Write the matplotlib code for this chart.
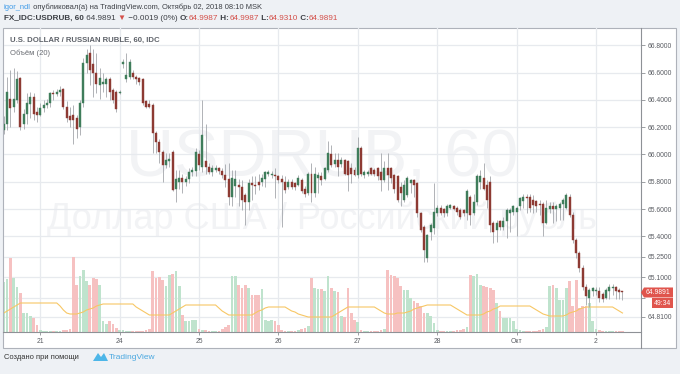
import matplotlib
matplotlib.use('Agg')
import matplotlib.pyplot as plt
import matplotlib.transforms as mtransforms
from matplotlib.patches import Rectangle, Polygon
from matplotlib.lines import Line2D
import numpy as np

# ---------------- data (hourly bars, 20 Sep 13:00 .. 02 Oct 08:00) ----------------
opens = [66.18, 66.22, 66.41, 66.35, 66.40, 66.56, 66.22, 66.30, 66.37, 66.42,
         66.31, 66.29, 66.34, 66.36, 66.38, 66.45, 66.44, 66.46, 66.48, 66.35,
         66.28, 66.29, 66.27, 66.20, 66.38, 66.67, 66.74, 66.66, 66.60, 66.51,
         66.52, 66.52, 66.55, 66.47, 66.46, 66.45, 66.66, 66.55, 66.57, 66.60,
         66.57, 66.56, 66.55, 66.39, 66.37, 66.36, 66.16, 66.09, 66.02, 65.92,
         65.95, 66.02, 65.75, 65.80, 65.83, 65.80, 65.82, 65.87, 65.88, 66.00,
         65.91, 65.95, 65.91, 65.87, 65.89, 65.90, 65.88, 65.85, 65.82, 65.69,
         65.77, 65.78, 65.76, 65.70, 65.65, 65.79, 65.78, 65.80, 65.80, 65.82,
         65.86, 65.85, 65.85, 65.84, 65.82, 65.80, 65.76, 65.80, 65.79, 65.78,
         65.81, 65.75, 65.72, 65.86, 65.72, 65.83, 65.84, 65.82, 65.89, 66.00,
         65.93, 65.96, 65.93, 65.96, 65.95, 65.90, 65.89, 65.85, 66.05, 65.85,
         65.86, 65.90, 65.89, 65.90, 65.87, 65.81, 65.90, 65.90, 65.85, 65.84,
         65.76, 65.67, 65.70, 65.79, 65.81, 65.79, 65.57, 65.47, 65.24, 65.43,
         65.46, 65.57, 65.61, 65.60, 65.57, 65.61, 65.62, 65.61, 65.59, 65.59,
         65.57, 65.69, 65.57, 65.65, 65.80, 65.83, 65.78, 65.80, 65.50, 65.45,
         65.51, 65.47, 65.51, 65.57, 65.58, 65.58, 65.62, 65.66, 65.69, 65.69,
         65.67, 65.66, 65.64, 65.64, 65.50, 65.60, 65.62, 65.60, 65.61, 65.64,
         65.61, 65.69, 65.56, 65.37, 65.28, 65.17, 65.03, 64.95, 65.00, 65.00,
         65.00, 64.98, 64.95, 65.00, 65.02, 65.03, 65.01, 64.9987]
highs = [66.28, 66.57, 66.62, 66.63, 66.61, 66.57, 66.33, 66.45, 66.46, 66.45,
         66.35, 66.38, 66.40, 66.41, 66.46, 66.47, 66.48, 66.50, 66.49, 66.39,
         66.35, 66.36, 66.29, 66.40, 66.71, 66.77, 66.80, 66.77, 66.74, 66.63,
         66.60, 66.57, 66.57, 66.49, 66.47, 66.47, 66.70, 66.74, 66.70, 66.62,
         66.58, 66.57, 66.56, 66.40, 66.40, 66.38, 66.17, 66.11, 66.03, 66.01,
         66.01, 66.03, 65.89, 65.89, 65.86, 65.84, 65.90, 65.91, 66.05, 66.03,
         66.40, 66.22, 65.94, 65.92, 65.92, 65.91, 65.90, 65.93, 65.94, 65.89,
         65.89, 65.82, 65.81, 65.72, 65.82, 65.84, 65.84, 65.86, 65.86, 65.88,
         65.89, 65.88, 65.90, 65.85, 65.85, 65.84, 65.82, 65.82, 65.80, 65.85,
         65.83, 65.77, 65.87, 65.94, 65.91, 65.87, 65.87, 65.91, 66.10, 66.07,
         66.01, 66.01, 65.98, 65.97, 65.96, 65.94, 65.91, 66.13, 66.06, 65.89,
         65.89, 65.91, 65.90, 65.91, 66.01, 65.95, 66.01, 65.91, 65.86, 65.85,
         65.80, 65.81, 65.84, 65.82, 65.82, 65.80, 65.58, 65.48, 65.42, 65.50,
         65.79, 65.63, 65.63, 65.61, 65.64, 65.64, 65.63, 65.62, 65.61, 65.60,
         65.75, 65.70, 65.71, 65.86, 65.89, 65.94, 65.81, 65.84, 65.51, 65.52,
         65.52, 65.54, 65.61, 65.61, 65.63, 65.62, 65.69, 65.71, 65.71, 65.71,
         65.70, 65.67, 65.67, 65.65, 65.67, 65.65, 65.65, 65.64, 65.65, 65.68,
         65.72, 65.71, 65.58, 65.39, 65.29, 65.19, 65.05, 65.02, 65.03, 65.03,
         65.03, 64.99, 65.02, 65.05, 65.05, 65.04, 65.02, 64.9987]
lows = [66.15, 66.18, 66.20, 66.31, 66.38, 66.18, 66.19, 66.22, 66.27, 66.25,
        66.24, 66.28, 66.31, 66.34, 66.35, 66.40, 66.43, 66.43, 66.33, 66.24,
        66.20, 66.08, 66.12, 66.14, 66.35, 66.60, 66.51, 66.42, 66.45, 66.41,
        66.46, 66.42, 66.40, 66.38, 66.31, 66.44, 66.63, 66.53, 66.55, 66.55,
        66.52, 66.51, 66.36, 66.34, 66.34, 66.01, 66.01, 65.94, 65.80, 65.90,
        65.91, 65.73, 65.65, 65.75, 65.72, 65.77, 65.79, 65.84, 65.84, 65.89,
        65.87, 65.86, 65.86, 65.84, 65.87, 65.86, 65.83, 65.76, 65.63, 65.62,
        65.69, 65.62, 65.59, 65.48, 65.59, 65.67, 65.71, 65.74, 65.77, 65.76,
        65.84, 65.83, 65.68, 65.79, 65.47, 65.72, 65.75, 65.75, 65.74, 65.77,
        65.72, 65.69, 65.70, 65.65, 65.69, 65.72, 65.78, 65.81, 65.87, 65.91,
        65.91, 65.84, 65.91, 65.85, 65.73, 65.79, 65.84, 65.83, 65.84, 65.83,
        65.84, 65.85, 65.84, 65.81, 65.73, 65.80, 65.74, 65.79, 65.72, 65.65,
        65.62, 65.65, 65.69, 65.72, 65.69, 65.54, 65.43, 65.21, 65.21, 65.37,
        65.42, 65.55, 65.56, 65.54, 65.55, 65.60, 65.59, 65.56, 65.53, 65.55,
        65.52, 65.48, 65.56, 65.63, 65.75, 65.74, 65.61, 65.43, 65.35, 65.36,
        65.45, 65.45, 65.39, 65.43, 65.56, 65.40, 65.59, 65.61, 65.57, 65.58,
        65.57, 65.58, 65.56, 65.40, 65.49, 65.57, 65.50, 65.51, 65.52, 65.52,
        65.60, 65.54, 65.35, 65.24, 65.14, 65.01, 64.90, 64.88, 64.96, 64.97,
        64.92, 64.92, 64.94, 64.94, 64.97, 64.94, 64.94, 64.9310]
closes = [66.22, 66.46, 66.34, 66.41, 66.55, 66.20, 66.30, 66.38, 66.42, 66.30,
          66.29, 66.34, 66.36, 66.38, 66.45, 66.44, 66.46, 66.47, 66.35, 66.27,
          66.25, 66.25, 66.19, 66.38, 66.67, 66.73, 66.62, 66.60, 66.52, 66.56,
          66.53, 66.55, 66.46, 66.40, 66.33, 66.46, 66.68, 66.58, 66.68, 66.57,
          66.55, 66.53, 66.38, 66.35, 66.35, 66.16, 66.09, 66.02, 65.92, 65.96,
          65.97, 65.74, 65.82, 65.83, 65.80, 65.82, 65.87, 65.89, 66.02, 65.92,
          66.14, 65.91, 65.87, 65.90, 65.90, 65.88, 65.85, 65.81, 65.69, 65.83,
          65.82, 65.76, 65.67, 65.65, 65.79, 65.78, 65.77, 65.78, 65.83, 65.87,
          65.87, 65.86, 65.84, 65.81, 65.80, 65.74, 65.80, 65.76, 65.76, 65.83,
          65.73, 65.71, 65.86, 65.72, 65.86, 65.85, 65.81, 65.90, 66.01, 65.92,
          65.96, 65.91, 65.96, 65.86, 65.85, 65.86, 65.85, 66.05, 65.86, 65.87,
          65.87, 65.86, 65.86, 65.84, 65.81, 65.90, 65.85, 65.83, 65.75, 65.67,
          65.72, 65.78, 65.83, 65.81, 65.78, 65.57, 65.45, 65.30, 65.41, 65.48,
          65.58, 65.61, 65.57, 65.57, 65.62, 65.63, 65.60, 65.58, 65.54, 65.57,
          65.73, 65.56, 65.65, 65.84, 65.84, 65.75, 65.67, 65.48, 65.43, 65.50,
          65.47, 65.51, 65.59, 65.59, 65.62, 65.61, 65.68, 65.69, 65.68, 65.61,
          65.63, 65.62, 65.63, 65.50, 65.61, 65.62, 65.60, 65.62, 65.64, 65.67,
          65.70, 65.56, 65.37, 65.28, 65.17, 65.03, 64.96, 65.01, 65.02, 65.01,
          64.95, 64.94, 65.01, 65.03, 65.03, 65.00, 64.99, 64.9891]
volumes = [50, 53, 74, 54, 45, 39, 19, 19, 16, 14, 7, 2,
           1, 1, 1, 1, 1, 1, 2, 2, 3,
           75, 47, 56, 62, 51, 47, 54, 53, 47, 11, 8, 11, 8, 4, 2,
           2, 1, 1, 1, 1, 1, 1, 2, 3,
           61, 54, 55, 52, 46, 57, 58, 61, 46, 17, 11, 11, 12, 12,
           3, 2, 2, 1, 1, 1, 1, 3, 5, 7,
           56, 56, 47, 44, 47, 44, 37, 37, 37, 43, 12, 11, 12, 11, 7,
           2, 1, 1, 1, 1, 2, 3, 4, 6,
           54, 44, 43, 43, 41, 56, 44, 41, 40, 16, 15, 44, 19, 12, 10,
           2, 1, 1, 1, 1, 1, 2, 3,
           62, 57, 56, 54, 46, 42, 42, 34, 31, 29, 26, 19, 19, 16, 9,
           2, 1, 1, 1, 1, 1, 2, 2, 3, 5,
           57, 56, 58, 47, 46, 45, 44, 42, 29, 21, 14, 14, 14, 11,
           3, 2, 1, 1, 1, 1, 1, 2, 3, 5,
           46, 47, 44, 32, 32, 44, 51, 26, 52, 24, 26, 26, 29, 11,
           3, 2, 1, 1, 1, 1, 1, 1, 1]
volume_ma20 = [19, 21, 23, 25, 27, 29, 29, 29, 29, 29, 29, 29, 29, 29, 29, 29, 29,
               26, 22, 19, 18, 18, 18, 19, 20, 22, 23, 24, 26, 27,
               28, 28, 28, 28, 28, 28, 28, 28, 28, 28, 25, 23, 21, 19, 17,
               17, 17, 17, 17, 17, 17, 19, 21, 23, 25, 27,
               27, 27, 27, 27, 27, 27, 27, 27, 27, 24, 21, 19, 17,
               17, 17, 17, 17, 17, 17, 17, 19, 21, 22, 24, 25,
               25, 25, 25, 25, 25, 23, 21, 20, 18, 17, 16, 15,
               15, 15, 15, 15, 15, 15, 15, 17, 19, 21, 23, 25,
               25, 25, 25, 25, 25, 25, 25, 25, 23, 21, 19, 18,
               18, 18, 19, 19, 19, 20, 21, 23, 24, 25, 26, 27,
               27, 27, 27, 27, 27, 27, 27, 25, 23, 21, 19, 17,
               17, 17, 17, 17, 18, 20, 21, 23, 24, 26,
               26, 26, 26, 26, 26, 26, 26, 26, 26, 24, 22, 20, 18, 17, 16,
               16, 16, 16, 16, 17, 19, 20, 21, 23, 24, 25,
               25, 25, 25, 25, 25, 25, 25, 25, 23, 21, 19]
date_ticks = [11, 35, 59, 83, 107, 131, 155, 179]
date_labels = ['21', '24', '25', '26', '27', '28', 'Окт', '2']
price_ticks = [66.8, 66.6, 66.4, 66.2, 66.0, 65.8, 65.6, 65.4, 65.25, 65.1, 64.95, 64.81]
price_labels = ['66.8000', '66.6000', '66.4000', '66.2000', '66.0000', '65.8000',
                '65.6000', '65.4000', '65.2500', '65.1000', '', '64.8100']
last_price = 64.9891

# ---------------- figure ----------------
W, H = 680, 374
fig = plt.figure(figsize=(W / 100, H / 100), dpi=100)
BG = '#eef1f5'
fig.patch.set_facecolor(BG)
plt.rcParams['font.family'] = ['DejaVu Sans']
FONT = ['Liberation Sans', 'DejaVu Sans']

def fx(x):
    return x / W

def fy(y):
    return 1 - y / H

# chart panel
fig.add_artist(Rectangle((fx(3), fy(348)), (676 - 3) / W, (348 - 28) / H,
                         transform=fig.transFigure, facecolor='white',
                         edgecolor='#aeb2ba', lw=0.8, zorder=-5))

# watermark
fig.text(fx(322), fy(160), 'USDRUB, 60', fontsize=48, color='#f2f3f5',
         ha='center', va='center', family=FONT, zorder=-4)
fig.text(fx(322), fy(219), 'Доллар США / Российский рубль', fontsize=26,
         color='#f2f3f5', ha='center', va='center', family=FONT, zorder=-4)

rect = [fx(3.5), fy(332), (641 - 3.5) / W, (332 - 28) / H]
ax_vol = fig.add_axes(rect, zorder=1)
ax = fig.add_axes(rect, sharex=ax_vol, zorder=2)
for a in (ax, ax_vol):
    a.patch.set_visible(False)
    for s in a.spines.values():
        s.set_visible(False)

n = len(closes)
xs = np.arange(n)
O = np.array(opens); Hh = np.array(highs); L = np.array(lows); C = np.array(closes)
up = C >= O

ax_vol.set_xlim(-0.1, 192.6)
ax.set_ylim(64.6996, 66.9267)
ax_vol.set_ylim(0, 304)

# grid (behind volume)
GRID = '#e7eaee'
blend = mtransforms.blended_transform_factory(ax_vol.transAxes, ax.transData)
for p in price_ticks:
    ax_vol.add_line(Line2D([0, 1], [p, p], transform=blend, color=GRID, lw=0.9, zorder=0))
for d in date_ticks:
    ax_vol.axvline(d, color=GRID, lw=0.9, zorder=0)

# volume
VUP, VDN = '#bfe3cd', '#f6c1c1'
vcol = [VUP if u else VDN for u in up]
ax_vol.bar(xs, volumes, width=0.82, color=vcol, zorder=1, linewidth=0)
ax_vol.plot(xs, volume_ma20, color='#f7c765', lw=0.8, zorder=2)

# candles
UPC, DNC = '#3f7d5b', '#8d3a33'
WICK = '#a3a6ab'
ax.vlines(xs, L, Hh, color=WICK, lw=0.6, zorder=3)
bh = np.maximum(np.abs(C - O), 0.004)
ax.bar(xs, bh, bottom=np.minimum(O, C), width=0.6,
       color=[UPC if u else DNC for u in up], edgecolor=[UPC if u else DNC for u in up],
       linewidth=0.3, zorder=4)

# axes ticks
ax.yaxis.tick_right()
ax.set_yticks(price_ticks)
ax.set_yticklabels(price_labels)
ax.tick_params(axis='y', length=3, width=0.6, color='#8c8f94', labelsize=4.9,
               labelcolor='#5a5d63', pad=1.5)
for t in ax.get_yticklabels():
    t.set_family(FONT)
ax.tick_params(axis='x', bottom=False, labelbottom=False)
ax_vol.set_yticks([])
ax_vol.set_xticks(date_ticks)
ax_vol.set_xticklabels(date_labels)
ax_vol.tick_params(axis='x', length=2, width=0.6, color='#8c8f94', labelsize=4.9,
                   labelcolor='#5a5d63', pad=2.5)
for t in ax_vol.get_xticklabels():
    t.set_family(FONT)

# separators
fig.add_artist(Line2D([fx(641), fx(641)], [fy(28), fy(348)], transform=fig.transFigure,
                      color='#8e9196', lw=0.8, zorder=5))
fig.add_artist(Line2D([fx(3), fx(641)], [fy(332), fy(332)], transform=fig.transFigure,
                      color='#8e9196', lw=0.8, zorder=5))

# last price labels
RED = '#e0554d'
lp_y = ax.transData.transform((0, last_price))[1]
ypix = H - lp_y
fig.add_artist(Polygon([(fx(641), fy(ypix)), (fx(644), fy(ypix - 5)), (fx(673), fy(ypix - 5)),
                        (fx(673), fy(ypix + 5)), (fx(644), fy(ypix + 5))], closed=True,
                       transform=fig.transFigure, facecolor=RED, edgecolor='none', zorder=6))
fig.text(fx(658.5), fy(ypix), '64.9891', color='white', fontsize=4.9, ha='center',
         va='center', family=FONT, zorder=7)
fig.add_artist(Rectangle((fx(652), fy(ypix + 16)), 21 / W, 10 / H, transform=fig.transFigure,
                         facecolor=RED, edgecolor='none', zorder=6))
fig.text(fx(662.5), fy(ypix + 11), '49:34', color='white', fontsize=4.9, ha='center',
         va='center', family=FONT, zorder=7)

# ---------------- header/footer texts ----------------
renderer = fig.canvas.get_renderer()

def runs(x, y, parts, size):
    cx = x
    for t, c, w in parts:
        tx = fig.text(fx(cx), fy(y), t, color=c, fontsize=size, fontweight=w,
                      ha='left', va='center', family=FONT)
        cx += tx.get_window_extent(renderer=renderer).width

DARK = '#3c3f45'
TRED = '#d4504a'
runs(4, 7.5, [('igor_ndl', '#3d9ae8', 'normal'),
              (' опубликовал(а) на TradingView.com, Октябрь 02, 2018 08:10 MSK', DARK, 'normal')], 5.45)
runs(4, 18.5, [('FX_IDC:USDRUB, 60', DARK, 'bold'), (' 64.9891 ', DARK, 'normal'),
               ('▼', TRED, 'normal'), (' \u22120.0019 (0%) ', DARK, 'normal'),
               ('O:', DARK, 'bold'), ('64.9987', TRED, 'normal'), (' H:', DARK, 'bold'),
               ('64.9987', TRED, 'normal'), (' L:', DARK, 'bold'), ('64.9310', TRED, 'normal'),
               (' C:', DARK, 'bold'), ('64.9891', TRED, 'normal')], 5.9)
fig.text(fx(10), fy(40), 'U.S. DOLLAR / RUSSIAN RUBLE, 60, IDC', color='#5f636a',
         fontsize=5.6, fontweight='bold', ha='left', va='center', family=FONT, zorder=8)
fig.text(fx(10), fy(53.5), 'Объём (20)', color='#6a6d73', fontsize=5.5,
         ha='left', va='center', family=FONT, zorder=8)

fig.text(fx(4), fy(357.5), 'Создано при помощи', color='#333333', fontsize=5.4,
         ha='left', va='center', family=FONT)
# logo
fig.add_artist(Polygon([(fx(93), fy(361)), (fx(98), fy(353)), (fx(101), fy(357)),
                        (fx(104), fy(353)), (fx(108), fy(361))], closed=True,
                       transform=fig.transFigure, facecolor='#4db6e8', edgecolor='none'))
fig.text(fx(109), fy(357.5), 'TradingView', color='#4aa8e0', fontsize=6.0,
         ha='left', va='center', family=FONT)

fig.savefig('out.png', dpi=100, facecolor=BG)
